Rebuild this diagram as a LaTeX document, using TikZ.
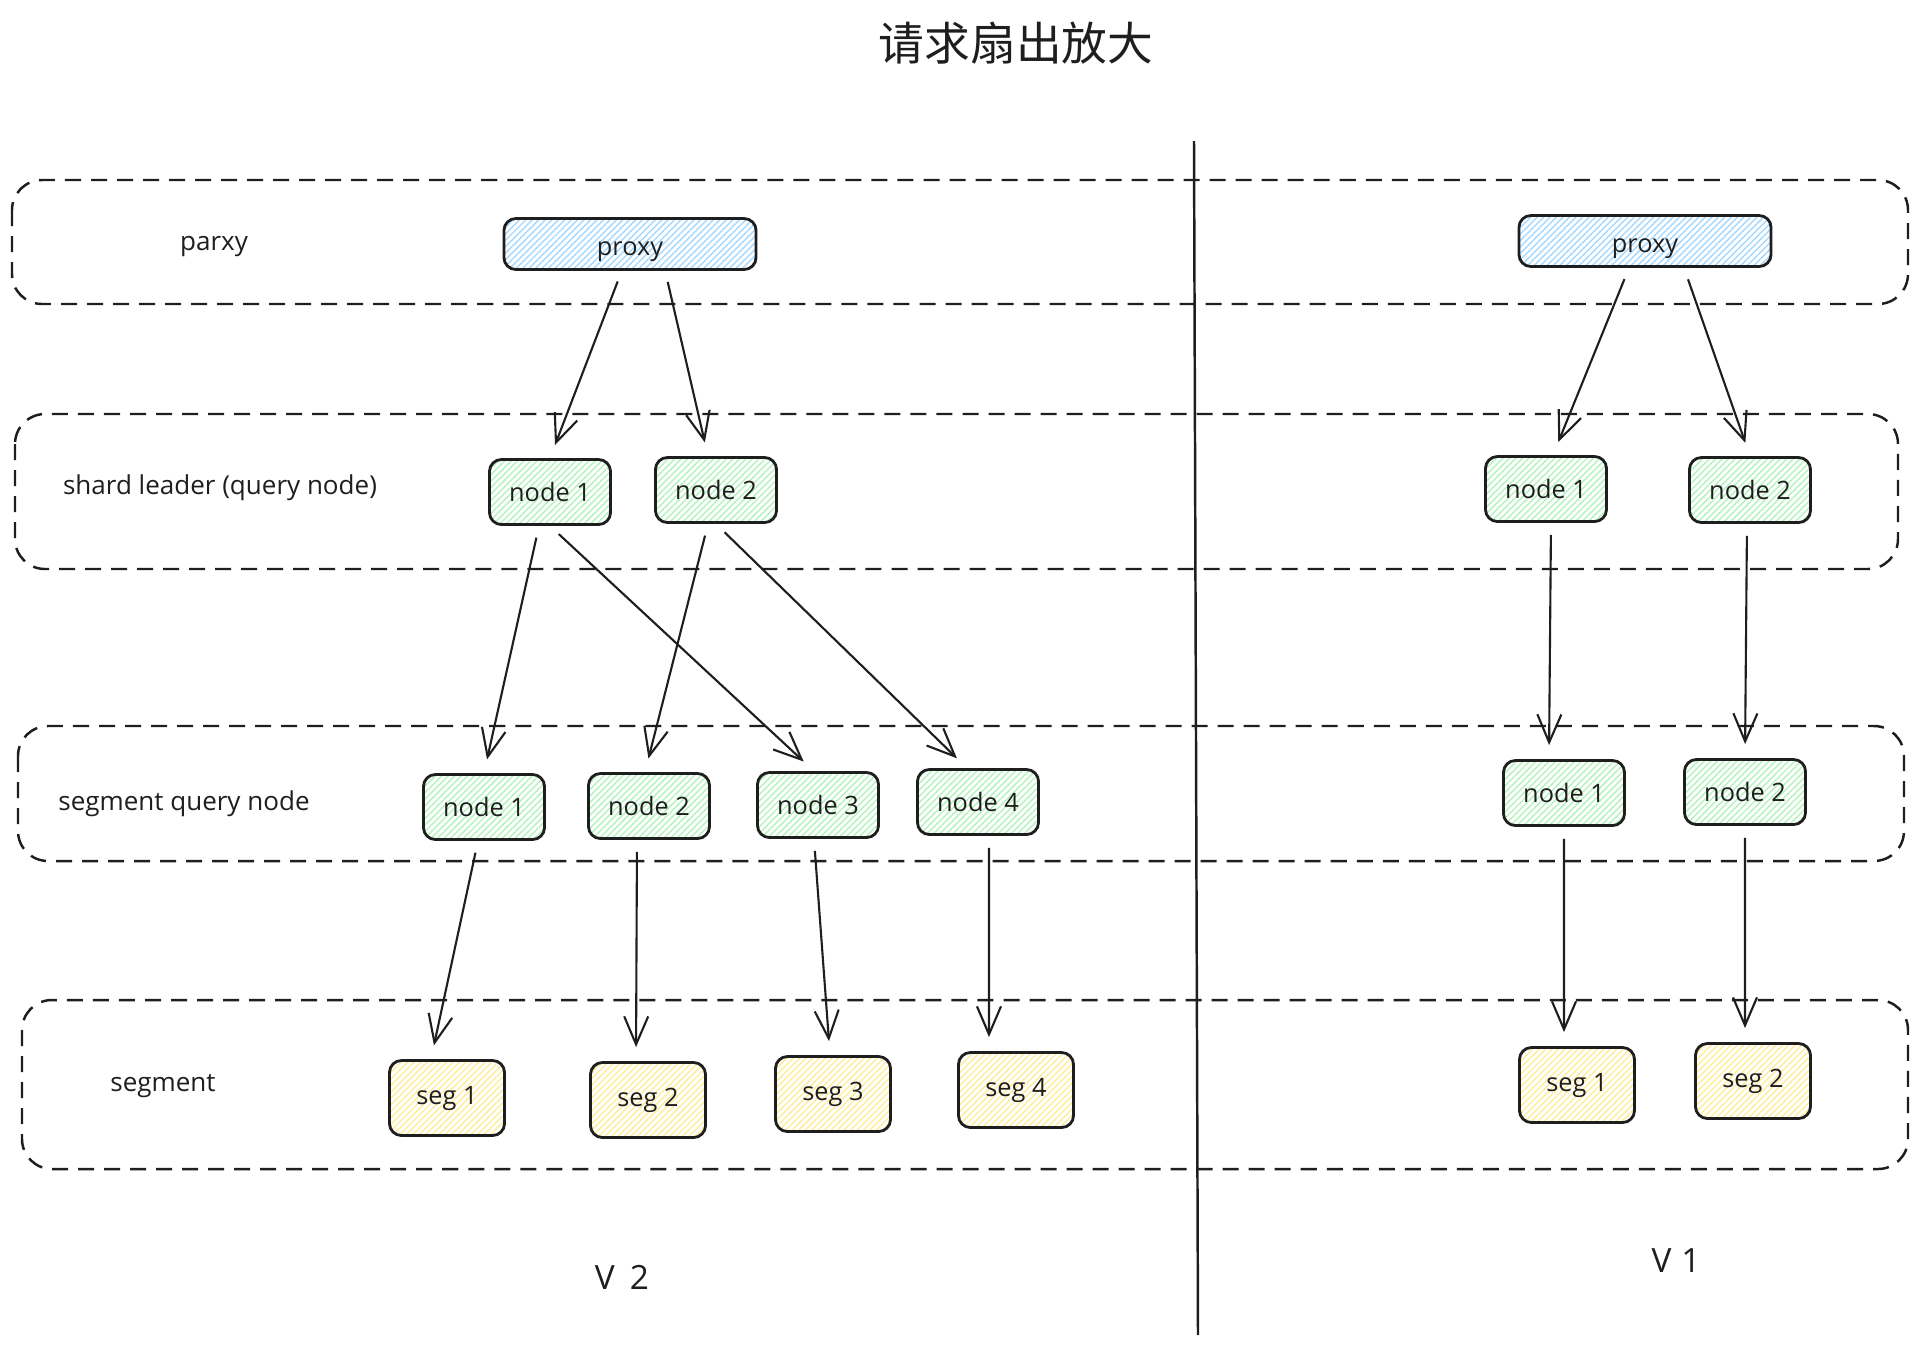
\documentclass[tikz,border=0pt]{standalone}
\usepackage{fontspec}
\setmainfont{Open Sans}
\newfontfamily\cjk{Noto Sans CJK SC}
\usepackage{tikz}
\usetikzlibrary{arrows.meta}
\usetikzlibrary{patterns.meta}
\usetikzlibrary{positioning}
\definecolor{inkgray}{HTML}{1E1E1E}
\definecolor{hatchblue}{HTML}{A5D8FF}
\definecolor{hatchgreen}{HTML}{B2F2BB}
\definecolor{hatchyellow}{HTML}{FFEC99}

\begin{document}
\begin{tikzpicture}[x=0.01cm, y=-0.01cm,
    box/.style={draw=inkgray, line width=0.8pt, rounded corners=1.2mm, inner sep=0pt,
        font=\fontsize{7.2}{8}\selectfont, text=inkgray},
    pxbox/.style={box, minimum width=2.52cm, minimum height=0.51cm, text height=1.2ex, text depth=0pt,
        pattern={Lines[angle=45,distance=1.3pt,line width=0.4pt]}, pattern color=hatchblue},
    qnbox/.style={box, minimum width=1.21cm, minimum height=0.65cm,
        pattern={Lines[angle=45,distance=1.3pt,line width=0.4pt]}, pattern color=hatchgreen},
    sgbox/.style={box, minimum width=1.15cm, minimum height=0.75cm,
        pattern={Lines[angle=45,distance=1.3pt,line width=0.4pt]}, pattern color=hatchyellow},
    lane/.style={draw=inkgray, dash pattern=on 1.6mm off 1mm, line width=0.7pt, rounded corners=3mm},
    lanetext/.style={font=\fontsize{7.4}{8}\selectfont, text=inkgray},
    vtext/.style={font=\fontsize{9.5}{11}\selectfont, text=inkgray},
    arr/.style={draw=inkgray, line width=0.6pt, -{Straight Barb[length=2.8mm,width=2.4mm]},
        shorten <=1.2mm, shorten >=1.4mm}]
    \useasboundingbox (0,0) rectangle (1920,1347);

    % Title
    \node[font=\cjk\fontsize{13}{15}\selectfont, text=inkgray] (title) at (1016,43) {请求扇出放大};

    % Draw the lanes
    \draw[lane] (12,180) rectangle (1908,304);
    \draw[lane] (15,414) rectangle (1898,569);
    \draw[lane] (18,726) rectangle (1904,861);
    \draw[lane] (22,1000) rectangle (1908,1169);

    % Divider between the two versions
    \draw[inkgray, line width=0.7pt] (1194,141) -- (1198,1335);

    % Lane labels
    \node[lanetext] (lbpx) at (214,247) {parxy};
    \node[lanetext] (lbsl) at (220,488) {shard leader (query node)};
    \node[lanetext] (lbsq) at (184,804) {segment query node};
    \node[lanetext] (lbsg) at (163,1086) {segment};

    % Proxy nodes
    \node[pxbox] (pxL) at (630,244) {proxy};
    \node[pxbox] (pxR) at (1645,241) {proxy};

    % Query nodes
    \foreach \nm/\x/\y/\t in {slL1/550/492/node 1, slL2/716/490/node 2,
        slR1/1546/489/node 1, slR2/1750/490/node 2,
        sqL1/484/807/node 1, sqL2/649/806/node 2, sqL3/818/805/node 3, sqL4/978/802/node 4,
        sqR1/1564/793/node 1, sqR2/1745/792/node 2} {
        \node[qnbox] (\nm) at (\x,\y) {\t};
    }

    % Segments
    \foreach \nm/\x/\y/\t in {sgL1/447/1098/seg 1, sgL2/648/1100/seg 2,
        sgL3/833/1094/seg 3, sgL4/1016/1090/seg 4,
        sgR1/1577/1085/seg 1, sgR2/1753/1081/seg 2} {
        \node[sgbox] (\nm) at (\x,\y) {\t};
    }

    % Arrows
    \foreach \a/\sa/\b/\sb in {pxL/-0.8/slL1/0, pxL/3.5/slL2/-0.8,
        slL1/-1.1/sqL1/0, slL1/0/sqL3/-0.4, slL2/-0.8/sqL2/-0.4, slL2/0/sqL4/-1.1,
        sqL1/-0.6/sgL1/-1.6, sqL2/-1.2/sgL2/-1.2, sqL3/-0.4/sgL3/-0.3, sqL4/1.1/sgL4/-2.7,
        pxR/-1.6/slR1/0.7, pxR/3.9/slR2/0,
        slR1/0.5/sqR1/-1.5, slR2/-0.3/sqR2/0,
        sqR1/0/sgR1/-1.3, sqR2/0/sgR2/-0.8} {
        \draw[arr] ([xshift=\sa mm]\a.south) -- ([xshift=\sb mm]\b.north);
    }

    % Version labels
    \node[vtext] (vtwo) at (622,1277) {V\hspace{0.45em}2};
    \node[vtext] (vone) at (1676,1261) {V\hspace{0.3em}1};
\end{tikzpicture}
\end{document}
